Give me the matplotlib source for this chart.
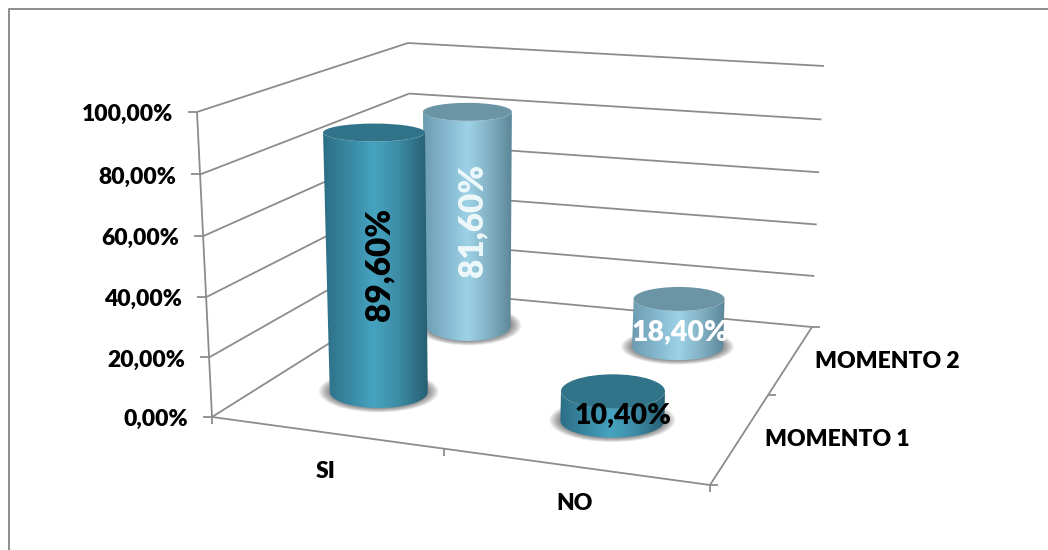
"""Two-series 3D-style cylinder chart drawn on a flat pixel axes."""

from __future__ import annotations

import matplotlib

matplotlib.use("Agg")

import matplotlib.pyplot as plt
import numpy as np
from matplotlib.colors import LinearSegmentedColormap
from matplotlib.patches import Ellipse, PathPatch
from matplotlib.path import Path


CATEGORIES = ["SI", "NO"]
SERIES = ["MOMENTO 1", "MOMENTO 2"]
MOMENTO_1 = [89.6, 10.4]
MOMENTO_2 = [81.6, 18.4]
AXIS_TICKS = [0, 20, 40, 60, 80, 100]

W, H = 1048, 550
AXIS_GREY = "#8c8c8c"

# floor corners of the box, (u, v) = (0,0) (1,0) (1,1) (0,1)
FLOOR = np.array([[212, 417], [710, 485], [812, 327], [414, 290]], dtype=float)
# pixel height and sideways lean of a full 100 column at those corners
RISE = np.array([305, 300, 261, 247], dtype=float)
LEAN = np.array([-15, 8, 12, -6], dtype=float)
# vertical foreshortening of the value axis
Z_PERSP = 0.03

CMAP_1 = LinearSegmentedColormap.from_list(
    "m1", [(0, "#2c6e85"), (0.3, "#3b8ea9"), (0.48, "#46a4c0"), (0.72, "#3d8ca6"), (1, "#275f73")]
)
CMAP_2 = LinearSegmentedColormap.from_list(
    "m2", [(0, "#6c9cb2"), (0.3, "#88bcd2"), (0.5, "#9dd2e6"), (0.72, "#86b5c9"), (1, "#5c8799")]
)
TOP_1 = "#31748a"
TOP_2 = "#6b94a5"


def homography() -> np.ndarray:
    a, b, c, d = FLOOR
    dx1, dx2, s = b - c, d - c, a - b + c - d
    det = dx1[0] * dx2[1] - dx1[1] * dx2[0]
    g = (s[0] * dx2[1] - s[1] * dx2[0]) / det
    h = (dx1[0] * s[1] - dx1[1] * s[0]) / det
    return np.array(
        [
            [b[0] - a[0] + g * b[0], d[0] - a[0] + h * d[0], a[0]],
            [b[1] - a[1] + g * b[1], d[1] - a[1] + h * d[1], a[1]],
            [g, h, 1.0],
        ]
    )


HOMO = homography()


def bilinear(vals: np.ndarray, u: float, v: float) -> float:
    return (1 - v) * ((1 - u) * vals[0] + u * vals[1]) + v * ((1 - u) * vals[3] + u * vals[2])


def project(u: float, v: float, z: float = 0.0) -> tuple[float, float]:
    p = HOMO @ np.array([u, v, 1.0])
    x, y = p[0] / p[2], p[1] / p[2]
    f = z / 100
    f = f * (1 - Z_PERSP * (1 - f))
    return x + bilinear(LEAN, u, v) * f, y - bilinear(RISE, u, v) * f


def line(ax, a, b, lw=1.3, zorder=1) -> None:
    ax.plot([a[0], b[0]], [a[1], b[1]], color=AXIS_GREY, lw=lw, zorder=zorder, solid_capstyle="butt")


def draw_box(ax) -> None:
    for z in AXIS_TICKS:
        corner_l = project(0, 0, z)
        corner_b = project(0, 1, z)
        corner_r = project(1, 1, z)
        line(ax, corner_l, corner_b)
        line(ax, corner_b, corner_r)
        line(ax, (corner_l[0] - 9, corner_l[1]), corner_l)
        ax.text(corner_l[0] - 24, corner_l[1] + 2.5, f"{z},00%", ha="right", va="center",
                fontsize=16.5, fontweight="heavy", color="black")
    line(ax, project(0, 0, 0), project(0, 0, 100))
    line(ax, project(0, 0), project(1, 0))
    line(ax, project(1, 0), project(1, 1))
    # tick marks along the floor edges
    for u in (0, 0.5, 1):
        x, y = project(u, 0)
        line(ax, (x, y), (x, y + 7))
    for v in (0, 0.5, 1):
        x, y = project(1, v)
        line(ax, (x, y), (x + 8, y))


def body_path(top, bot, a_top, b_top, a_bot, b_bot) -> Path:
    t = np.linspace(np.pi, 0, 50)
    lower = np.column_stack([bot[0] + a_bot * np.cos(t), bot[1] + b_bot * np.sin(t)])
    upper = np.column_stack([top[0] + a_top * np.cos(t[::-1]), top[1] + b_top * np.sin(t[::-1])])
    verts = np.vstack([lower, upper, lower[:1]])
    return Path(verts, closed=True)


def draw_cylinder(ax, u, v, value, cmap, top_color, radii, zorder) -> None:
    a_top, b_top, a_bot, b_bot = radii
    bot = project(u, v, 0)
    top = project(u, v, value)
    top = (top[0] + 0.02 * value, top[1])

    # soft shadow on the floor
    for i in range(10):
        ax.add_patch(
            Ellipse(
                (bot[0], bot[1] - 0.5),
                2 * (a_bot + 11 - 1.1 * i),
                2 * (b_bot + 5 - 0.45 * i),
                facecolor="black",
                edgecolor="none",
                alpha=0.05,
                zorder=zorder,
            )
        )

    grad = np.linspace(0, 1, 128).reshape(1, -1)
    x0 = min(top[0] - a_top, bot[0] - a_bot)
    x1 = max(top[0] + a_top, bot[0] + a_bot)
    im = ax.imshow(grad, cmap=cmap, extent=(x0, x1, bot[1] + b_bot + 1, top[1] - b_top - 1),
                   aspect="auto", zorder=zorder + 0.1, interpolation="bilinear")
    clip = PathPatch(body_path(top, bot, a_top, b_top, a_bot, b_bot), transform=ax.transData, facecolor="none", edgecolor="none")
    ax.add_patch(clip)
    im.set_clip_path(clip)
    ax.add_patch(Ellipse(top, 2 * a_top, 2 * b_top, facecolor=top_color, edgecolor="none", zorder=zorder + 0.2))


def main() -> None:
    plt.rcParams["font.family"] = ["Lato", "DejaVu Sans"]
    fig = plt.figure(figsize=(W / 100, H / 100), dpi=100, facecolor="white")
    ax = fig.add_axes([0, 0, 1, 1])
    ax.set_axis_off()

    # chart frame: only the left and top edges fall inside the image
    ax.plot([9, 9, W + 5], [H + 5, 9, 9], color=AXIS_GREY, lw=1.4, zorder=0)
    draw_box(ax)

    u_pos = [0.25, 0.75]
    v_pos = [0.25, 0.75]
    radii_1 = [(51, 9, 49, 16), (52, 17, 52, 17)]
    radii_2 = [(44.5, 9, 42, 15), (45.5, 12, 45.5, 13)]

    # back row first so the front row overlaps it
    for i in (1, 0):
        draw_cylinder(ax, u_pos[i], v_pos[1], MOMENTO_2[i], CMAP_2, TOP_2, radii_2[i], 3 + (1 - i))
    for i in (1, 0):
        draw_cylinder(ax, u_pos[i], v_pos[0], MOMENTO_1[i], CMAP_1, TOP_1, radii_1[i], 6 + (1 - i))

    def pct(val):
        return f"{val:.2f}%".replace(".", ",")

    def mid(u, v, val):
        return project(u, v, val / 2)

    x, y = mid(u_pos[0], v_pos[0], MOMENTO_1[0])
    ax.text(x + 4, y, pct(MOMENTO_1[0]), rotation=90, ha="center", va="center", fontsize=24,
            fontweight="heavy", color="black", zorder=12)
    x, y = mid(u_pos[0], v_pos[1], MOMENTO_2[0])
    ax.text(x + 5, y, pct(MOMENTO_2[0]), rotation=90, ha="center", va="center", fontsize=24,
            fontweight="heavy", color="#eef8fb", zorder=12)
    x, y = mid(u_pos[1], v_pos[1], MOMENTO_2[1])
    ax.text(x + 2, y + 9, pct(MOMENTO_2[1]), ha="center", va="center", fontsize=20.5,
            fontweight="heavy", color="white", zorder=12)
    x, y = mid(u_pos[1], v_pos[0], MOMENTO_1[1])
    ax.text(x + 10, y + 9, pct(MOMENTO_1[1]), ha="center", va="center", fontsize=20.5,
            fontweight="heavy", color="black", zorder=12)

    ax.text(326, 471, CATEGORIES[0], ha="center", va="center", fontsize=16.5, fontweight="heavy")
    ax.text(575, 504, CATEGORIES[1], ha="center", va="center", fontsize=16.5, fontweight="heavy")
    ax.text(765, 439, SERIES[0], ha="left", va="center", fontsize=16.5, fontweight="heavy")
    ax.text(815, 362, SERIES[1], ha="left", va="center", fontsize=16.5, fontweight="heavy")

    ax.set_xlim(0, W)
    ax.set_ylim(H, 0)
    fig.savefig("out.png", dpi=100, facecolor="white")
    plt.close(fig)


if __name__ == "__main__":
    main()
